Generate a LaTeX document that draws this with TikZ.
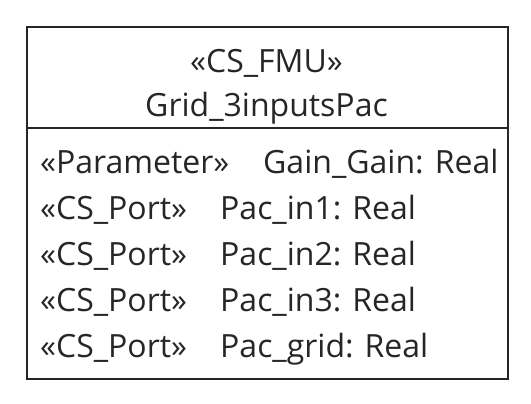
\documentclass[tikz,border=0pt]{standalone}
\usepackage{fontspec}
\setmainfont{Open Sans}
\begin{document}
\begin{tikzpicture}[x=1pt,y=-1pt,
  txt/.style={font=\fontsize{32}{38}\selectfont, inner sep=0pt, text=black!85},
  frame/.style={draw=black!85, line width=2pt}]
\useasboundingbox (0,0) rectangle (531,404);
\node[frame, minimum width=481pt, minimum height=352pt, anchor=north west, inner sep=0pt] (box) at (26,26) {};
\coordinate (sepL) at (26,128);
\coordinate (sepR) at (509,128);
\draw[frame] (sepL) -- (sepR);
\node[txt, anchor=base] (st) at (266.5,73) {«CS\_FMU»};
\node[txt, anchor=base] (nm) at (266.5,117) {Grid\_3inputsPac};
\node[txt, anchor=base west] (s1) at (40,173) {«Parameter»};
\node[txt, anchor=base west] (a1) at (263,173) {Gain\_Gain: Real};
\node[txt, anchor=base west] (s2) at (40,219) {«CS\_Port»};
\node[txt, anchor=base west] (a2) at (220,219) {Pac\_in1: Real};
\node[txt, anchor=base west] (s3) at (40,265) {«CS\_Port»};
\node[txt, anchor=base west] (a3) at (220,265) {Pac\_in2: Real};
\node[txt, anchor=base west] (s4) at (40,311) {«CS\_Port»};
\node[txt, anchor=base west] (a4) at (220,311) {Pac\_in3: Real};
\node[txt, anchor=base west] (s5) at (40,357) {«CS\_Port»};
\node[txt, anchor=base west] (a5) at (220,357) {Pac\_grid: Real};
\end{tikzpicture}
\end{document}
